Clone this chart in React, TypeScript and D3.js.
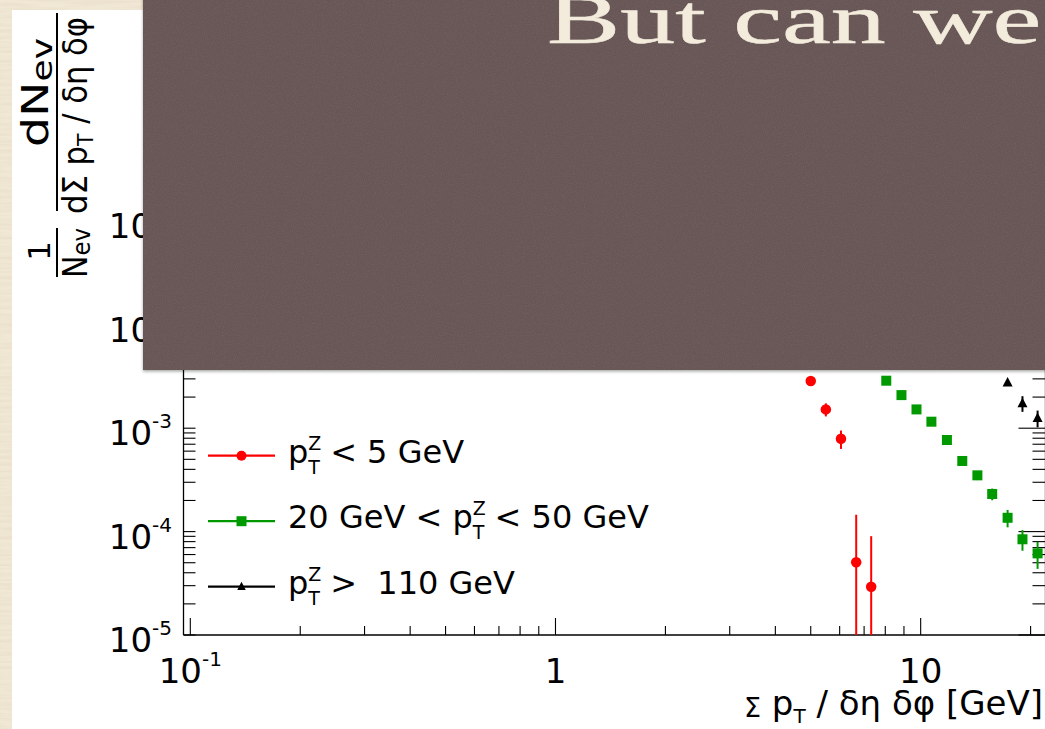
import React from 'react';
import * as d3 from 'd3';

const W = 1045;
const H = 729;

// Sum pT density per event (GeV) for three Z transverse-momentum selections
const lowPtX = [5.0, 5.5, 6.05, 6.66, 7.32];
const lowPtY = [2.86e-3, 1.52e-3, 7.9e-4, 5.05e-5, 2.93e-5];
const lowPtErr = [1.0e-4, 2.2e-4, 1.6e-4, 9.5e-5, 6.1e-5];

const midPtX = [8.05, 8.86, 9.74, 10.7, 11.8, 13.0, 14.3, 15.7, 17.3, 19.0, 20.9];
const midPtY = [2.88e-3, 2.09e-3, 1.52e-3, 1.156e-3, 7.69e-4, 4.82e-4, 3.5e-4, 2.31e-4, 1.36e-4, 8.43e-5, 6.16e-5];
const midPtErr = [1.0e-4, 8e-5, 6e-5, 5e-5, 4e-5, 3e-5, 3.5e-5, 3.0e-5, 2.6e-5, 1.9e-5, 1.8e-5];

const highPtX = [17.3, 19.0, 20.9];
const highPtY = [2.75e-3, 1.74e-3, 1.25e-3];
const highPtErr = [1.2e-4, 3.0e-4, 2.3e-4];

const seriesColors = ['#ff0000', '#009a00', '#000000'];
const seriesMarkers = ['circle', 'square', 'triangle'];

// legend rows: [text before pT, text after pT]
const legendLabels = [
  ['', ' < 5 GeV'],
  ['20 GeV < ', ' < 50 GeV'],
  ['', ' >\u00a0 110 GeV'],
];

const xTickLabels = [
  { v: 0.1, base: '10', exp: '-1' },
  { v: 1, base: '1', exp: '' },
  { v: 10, base: '10', exp: '' },
];
const yDecades = [-5, -4, -3, -2, -1];

const slideTitle = 'But can we';

const SANS = 'DejaVu Sans, Verdana, sans-serif';

function Marker({ kind, cx, cy, color, s }: { kind: string; cx: number; cy: number; color: string; s: number }) {
  if (kind === 'circle') return <circle cx={cx} cy={cy} r={s / 2} fill={color} />;
  if (kind === 'square') return <rect x={cx - s / 2} y={cy - s / 2} width={s} height={s} fill={color} />;
  const h = s * 0.95;
  return (
    <path
      d={`M${cx},${cy - h * 0.6} L${cx + s / 2},${cy + h * 0.4} L${cx - s / 2},${cy + h * 0.4} Z`}
      fill={color}
    />
  );
}

export default function App() {
  const x = d3.scaleLog().domain([0.0958, 21.97]).range([183.5, 1045.5]);
  const y = d3.scaleLog().domain([1e-5, 0.915]).range([635, 122]);
  const [yMin] = y.domain();
  const [x0, x1] = x.range();
  const [yB, yT] = y.range();

  const isDecade = (t: number) => Math.abs(Math.log10(t) - Math.round(Math.log10(t))) < 1e-6;
  const xTicks = x.ticks();
  const yTicks = y.ticks();

  const series = [
    { xs: lowPtX, ys: lowPtY, es: lowPtErr },
    { xs: midPtX, ys: midPtY, es: midPtErr },
    { xs: highPtX, ys: highPtY, es: highPtErr },
  ];

  return (
    <svg
      width={W}
      height={H}
      viewBox={`0 0 ${W} ${H}`}
      style={{ position: 'absolute', left: 0, top: 0, display: 'block' }}
    >
      <defs>
        <filter id="paper" x="0" y="0" width="100%" height="100%">
          <feTurbulence type="fractalNoise" baseFrequency="0.015 0.3" numOctaves="3" seed="7" />
          <feColorMatrix type="matrix" values="0 0 0 0 0.75  0 0 0 0 0.66  0 0 0 0 0.5  0 0 0 0.9 -0.33" />
        </filter>
        <filter id="grain" x="0" y="0" width="100%" height="100%">
          <feTurbulence type="fractalNoise" baseFrequency="0.9" numOctaves="2" seed="3" />
          <feColorMatrix type="matrix" values="0 0 0 0 0.25  0 0 0 0 0.2  0 0 0 0 0.2  0 0 0 0.5 -0.2" />
        </filter>
        <filter id="shade" x="-5%" y="-5%" width="110%" height="115%">
          <feDropShadow dx="0" dy="1.5" stdDeviation="1.5" floodColor="#000" floodOpacity="0.35" />
        </filter>
        <clipPath id="frame">
          <rect x={x0} y={yT} width={x1 - x0} height={yB - yT} />
        </clipPath>
      </defs>

      {/* parchment */}
      <rect x={0} y={0} width={W} height={H} fill="#f0e7d5" />
      <rect x={0} y={0} width={W} height={H} filter="url(#paper)" />

      {/* chart panel */}
      <rect x={12} y={10} width={W} height={H} fill="#ffffff" />

      {/* frame */}
      <g stroke="#000" fill="none">
        <line x1={x0} x2={x0} y1={yT} y2={yB} strokeWidth={1.3} />
        <line x1={x0} x2={x1} y1={yB} y2={yB} strokeWidth={1.3} />
        <line x1={x1} x2={x1} y1={yT} y2={yB} strokeWidth={1.3} />
        <line x1={x0} x2={x1} y1={yT} y2={yT} strokeWidth={1.3} />
        {xTicks.map((t, i) => {
          const len = isDecade(t) ? 17 : 9;
          return <line key={`xt${i}`} x1={x(t)} x2={x(t)} y1={yB} y2={yB - len} strokeWidth={1.1} />;
        })}
        {yTicks.map((t, i) => (
          <line key={`yl${i}`} x1={x0} x2={x0 + 12} y1={y(t)} y2={y(t)} strokeWidth={1.1} />
        ))}
        {yTicks.map((t, i) => {
          const len = isDecade(t) ? 27 : 13;
          return <line key={`yr${i}`} x1={x1} x2={x1 - len} y1={y(t)} y2={y(t)} strokeWidth={1.1} />;
        })}
      </g>

      {/* tick labels */}
      <g fontFamily={SANS} fill="#000">
        {xTickLabels.map((d, i) => (
          <text key={`xl${i}`} x={x(d.v)} y={683} fontSize={34} textAnchor="middle">
            {d.base}
            {d.exp ? (
              <tspan fontSize={20} dy={-17}>
                {d.exp}
              </tspan>
            ) : null}
          </text>
        ))}
        {yDecades.map((e) => (
          <text key={`yd${e}`} x={172} y={y(Math.pow(10, e)) + 17} fontSize={34} textAnchor="end">
            10
            <tspan fontSize={20} dy={-17}>
              {String(e)}
            </tspan>
          </text>
        ))}
      </g>

      {/* x-axis title */}
      <text x={1043} y={715} fontFamily={SANS} fontSize={34} textAnchor="end" fill="#000">
        <tspan fontSize={27} dy={2}>Σ</tspan>
        <tspan dy={-2}> p</tspan>
        <tspan fontSize={20} dy={8}>T</tspan>
        <tspan dy={-8}> / δη δφ [GeV]</tspan>
      </text>

      {/* y-axis title */}
      <g transform="translate(57,0) rotate(-90)" fontFamily={SANS} fill="#000">
        <line x1={-211} x2={-13} y1={0} y2={0} stroke="#000" strokeWidth={2} />
        <text x={-147} y={-9} fontSize={38} textLength={109} lengthAdjust="spacingAndGlyphs">
          dN<tspan fontSize={29} dy={4}>ev</tspan>
        </text>
        <text x={-214} y={30} fontSize={33} textLength={197} lengthAdjust="spacingAndGlyphs">
          dΣ p<tspan fontSize={22} dy={6}>T</tspan>
          <tspan dy={-6}> / δη δφ</tspan>
        </text>
        <line x1={-277} x2={-228} y1={0} y2={0} stroke="#000" strokeWidth={2} />
        <text x={-251} y={-7} fontSize={31} textAnchor="middle">1</text>
        <text x={-278} y={30} fontSize={33} textLength={50} lengthAdjust="spacingAndGlyphs">
          N<tspan fontSize={25} dy={3}>ev</tspan>
        </text>
      </g>

      {/* data */}
      <g clipPath="url(#frame)">
        {series.map((s, k) => (
          <g key={`s${k}`}>
            {s.xs.map((xv, i) => {
              const lo = s.ys[i] - s.es[i];
              const yLo = lo > yMin ? y(lo) : yB;
              return (
                <line
                  key={`e${i}`}
                  x1={x(xv)}
                  x2={x(xv)}
                  y1={y(s.ys[i] + s.es[i])}
                  y2={yLo}
                  stroke={seriesColors[k]}
                  strokeWidth={2}
                />
              );
            })}
            {s.xs.map((xv, i) => (
              <Marker
                key={`m${i}`}
                kind={seriesMarkers[k]}
                cx={x(xv)}
                cy={y(s.ys[i])}
                color={seriesColors[k]}
                s={k === 0 ? 10.5 : 10}
              />
            ))}
          </g>
        ))}
      </g>

      {/* legend */}
      <g fontFamily={SANS} fill="#000">
        {legendLabels.map((lab, i) => {
          const ly = 455.7 + i * 65.5;
          return (
            <g key={`lg${i}`}>
              <line x1={208} x2={275} y1={ly} y2={ly} stroke={seriesColors[i]} strokeWidth={2.2} />
              <Marker kind={seriesMarkers[i]} cx={241.5} cy={ly} color={seriesColors[i]} s={i === 2 ? 8.5 : 10} />
              <text x={288} y={ly + 7} fontSize={32}>
                {lab[0]}p
                <tspan fontSize={19} dy={-13}>Z</tspan>
                <tspan fontSize={19} dx={-13} dy={24}>T</tspan>
                <tspan dy={-11}>{lab[1]}</tspan>
              </text>
            </g>
          );
        })}
      </g>

      {/* slide title band */}
      <g filter="url(#shade)">
        <rect x={143} y={-10} width={W} height={380} fill="#675656" />
      </g>
      <rect x={143} y={0} width={W - 143} height={370} filter="url(#grain)" />
      <text
        transform="translate(547,42.5) scale(1.57,1)"
        fontFamily="Liberation Serif, Times New Roman, serif"
        fontSize={70}
        fill="#f3ecdc"
        stroke="#f3ecdc"
        strokeWidth={0.5}
      >
        {slideTitle}
      </text>
    </svg>
  );
}
